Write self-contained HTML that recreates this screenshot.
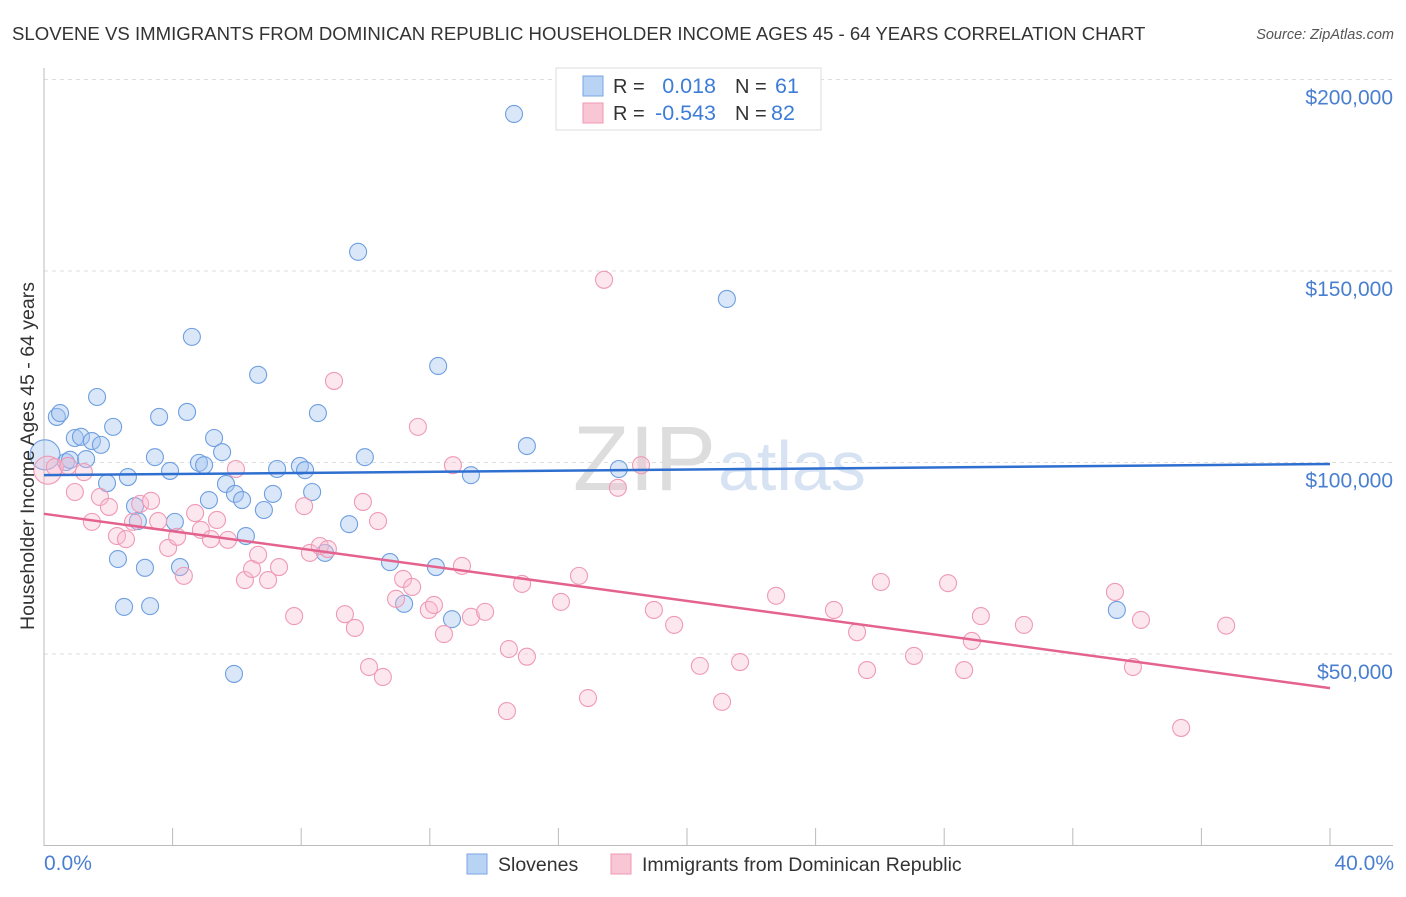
<!DOCTYPE html>
<html><head><meta charset="utf-8"><style>
body{margin:0;background:#fff;font-family:"Liberation Sans",sans-serif;}
svg text{font-family:"Liberation Sans",sans-serif;}
</style></head><body>
<svg width="1406" height="892">
<text x="12" y="40" font-size="18.6" fill="#333">SLOVENE VS IMMIGRANTS FROM DOMINICAN REPUBLIC HOUSEHOLDER INCOME AGES 45 - 64 YEARS CORRELATION CHART</text>
<text x="1394" y="39" font-size="14.5" fill="#555" font-style="italic" text-anchor="end">Source: ZipAtlas.com</text>
<g id="grid"></g>
<text x="716" y="490" font-size="92" fill="#ddd" text-anchor="end" font-family="Liberation Serif">ZIP</text>
<text x="718" y="490" font-size="70" fill="#d7e3f3">atlas</text>
<g id="pts"></g>
<g id="lines"></g>
<text x="34" y="456" font-size="19.5" fill="#333" text-anchor="middle" transform="rotate(-90 34 456)">Householder Income Ages 45 - 64 years</text>
<text x="44" y="870" font-size="21" fill="#4a7fd0">0.0%</text>
<text x="1394" y="870" font-size="21" fill="#4a7fd0" text-anchor="end">40.0%</text>
<g>
<rect x="556" y="68" width="265" height="62" fill="#fff" stroke="#ddd"/>
<rect x="583" y="76" width="20" height="20" fill="#b9d3f5" stroke="#7aa6e3"/>
<rect x="583" y="103" width="20" height="20" fill="#f9c6d5" stroke="#ee98b3"/>
<text x="613" y="93" font-size="20" fill="#333">R =</text>
<text x="716" y="93" font-size="21.5" fill="#3d7dd8" text-anchor="end">0.018</text>
<text x="735" y="93" font-size="20" fill="#333">N =</text>
<text x="775" y="93" font-size="21.5" fill="#3d7dd8">61</text>
<text x="613" y="120" font-size="20" fill="#333">R =</text>
<text x="716" y="120" font-size="21.5" fill="#3d7dd8" text-anchor="end">-0.543</text>
<text x="735" y="120" font-size="20" fill="#333">N =</text>
<text x="771" y="120" font-size="21.5" fill="#3d7dd8">82</text>
</g>
<g>
<rect x="467" y="854" width="20" height="20" fill="#b9d3f5" stroke="#7aa6e3"/>
<text x="498" y="871" font-size="19.5" fill="#333">Slovenes</text>
<rect x="611" y="854" width="20" height="20" fill="#f9c6d5" stroke="#ee98b3"/>
<text x="642" y="871" font-size="19.5" fill="#333">Immigrants from Dominican Republic</text>
</g>
</svg>
<script>
const yTicks=[50000,100000,150000,200000];
const yTickLabels=["$50,000","$100,000","$150,000","$200,000"];
const xTicks=[0,4,8,12,16,20,24,28,32,36,40];
const blueX=[0.03,0.40,0.50,0.68,0.81,0.96,1.15,1.31,1.49,1.65,1.77,1.96,2.15,2.30,2.49,2.61,2.83,2.92,3.14,3.30,3.45,3.58,3.92,4.07,4.23,4.45,4.60,4.82,4.98,5.13,5.29,5.54,5.66,5.94,6.16,6.28,5.91,6.66,6.84,7.12,7.25,7.96,8.12,8.34,8.52,8.74,9.49,9.77,9.98,10.76,11.20,12.19,12.26,12.69,13.28,14.62,15.02,17.88,21.24,33.37];
const blueY=[102.0,111.9,112.9,100.1,100.7,106.4,106.7,100.9,105.6,117.1,104.6,94.6,109.3,74.8,62.3,96.2,88.6,84.7,72.5,62.5,101.4,111.9,97.8,84.5,72.7,113.2,132.8,99.9,99.3,90.2,106.4,102.7,94.4,91.8,90.2,80.8,44.8,122.9,87.6,91.8,98.3,99.1,98.0,92.3,112.9,76.4,83.9,155.0,101.4,74.0,63.1,72.7,125.2,59.1,96.7,191.0,104.3,98.3,142.7,61.5];
const pinkX=[0.12,0.34,0.75,0.96,1.24,1.49,1.74,2.02,2.27,2.55,2.77,2.99,3.33,3.55,3.86,4.14,4.35,4.70,4.88,5.19,5.38,5.72,5.97,6.25,6.47,6.66,6.97,7.31,7.78,8.09,8.27,8.58,8.83,9.02,9.36,9.67,9.92,10.11,10.39,10.54,10.95,11.17,11.45,11.63,11.97,12.13,12.44,12.72,13.00,13.28,13.72,14.40,14.46,14.87,15.02,16.08,16.64,16.92,17.42,17.85,18.57,18.97,19.60,20.40,21.09,21.65,22.77,24.57,25.29,25.60,26.03,27.06,28.12,28.62,28.86,29.14,30.48,33.31,33.87,34.12,35.37,36.77];
const pinkY=[98.0,98.8,99.1,92.3,97.5,84.5,91.0,88.4,80.8,80.0,84.5,89.2,90.0,84.7,77.7,80.6,70.4,86.8,82.4,80.0,85.0,79.8,98.3,69.3,72.2,75.9,69.3,72.7,59.9,88.6,76.4,78.2,77.4,121.3,60.4,56.8,89.7,46.6,84.7,44.0,64.4,69.6,67.5,109.3,61.5,62.8,55.2,99.3,73.0,59.7,61.0,35.1,51.3,68.3,49.3,63.6,70.4,38.5,147.7,93.4,99.3,61.5,57.6,46.9,37.5,47.9,65.2,61.5,55.7,45.8,68.8,49.5,68.5,45.8,53.4,59.9,57.6,66.2,46.6,58.9,30.7,57.4];
const blueLine=[96.7,99.6];
const pinkLine=[86.6,41.1];
const NS="http://www.w3.org/2000/svg";
const X=v=>44+v/40*1286;
const Y=v=>845.5-v/50000*191.5;
function mk(t,a,p){const e=document.createElementNS(NS,t);for(const k in a)e.setAttribute(k,a[k]);p.appendChild(e);return e;}
const g=document.getElementById('grid');
yTicks.forEach((t,i)=>{
 const l=mk('line',{x1:44,x2:1393,y1:Y(t),y2:Y(t),stroke:'#ddd','stroke-dasharray':'4,4'},g);
 
 
 const tx=mk('text',{x:1393,y:Y(t)+25,'font-size':21,fill:'#4a7fd0','text-anchor':'end'},g);
 tx.textContent=yTickLabels[i];
 
 
});
const ax=mk('line',{x1:44,x2:44,y1:68,y2:846,stroke:'#bbb'},g);


const bx=mk('line',{x1:44,x2:1393,y1:845.5,y2:845.5,stroke:'#bbb'},g);


xTicks.forEach(t=>{
 const l=mk('line',{x1:X(t),x2:X(t),y1:828,y2:846,stroke:'#bbb'},g);
 
 
});
const p=document.getElementById('pts');
blueX.forEach((x,i)=>{
 const c=mk('circle',{cx:X(x),cy:Y(blueY[i]*1000),r:i==0?15:8.5,fill:'rgba(160,196,240,0.4)',stroke:'#6f9fe0','stroke-width':1.1},p);
 
 
});
pinkX.forEach((x,i)=>{
 const c=mk('circle',{cx:X(x),cy:Y(pinkY[i]*1000),r:i==0?14:8.5,fill:'rgba(248,185,205,0.35)',stroke:'#ef9ab5','stroke-width':1.1},p);
 
 
});
const L=document.getElementById('lines');
const bl=mk('line',{x1:X(0),x2:X(40),y1:Y(blueLine[0]*1000),y2:Y(blueLine[1]*1000),stroke:'#2f6fd0','stroke-width':2.5},L);


const pl=mk('line',{x1:X(0),x2:X(40),y1:Y(pinkLine[0]*1000),y2:Y(pinkLine[1]*1000),stroke:'#e4638e','stroke-width':2.5},L);


</script>
</body></html>
